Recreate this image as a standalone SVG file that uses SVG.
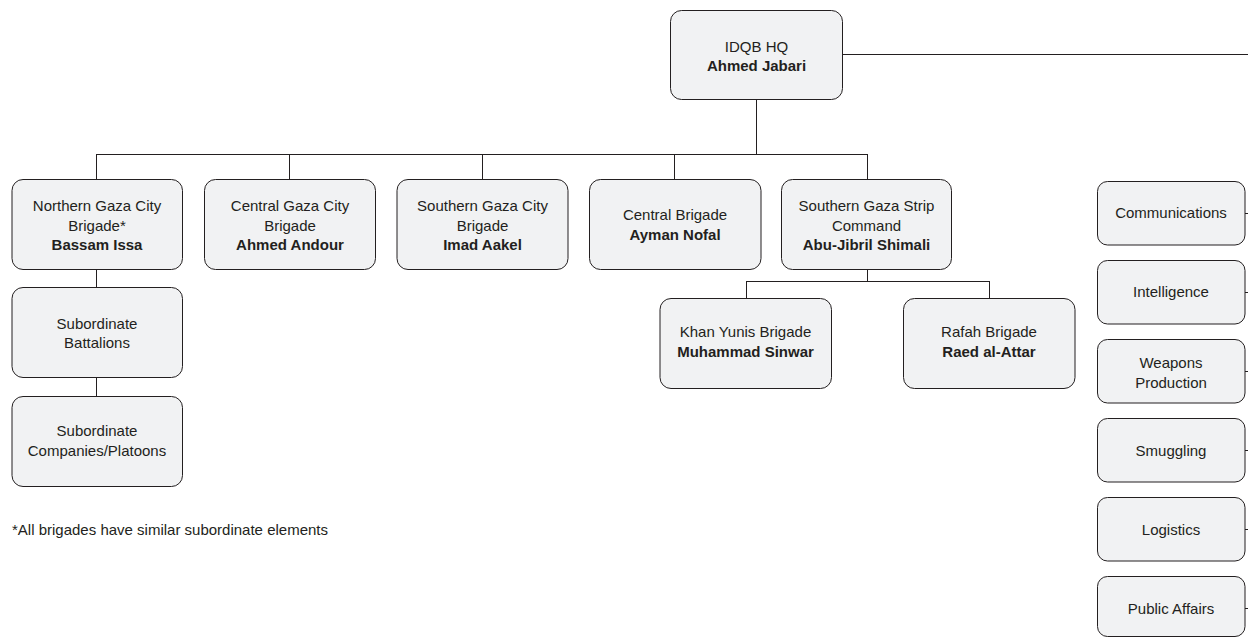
<svg xmlns="http://www.w3.org/2000/svg" width="1248" height="638" viewBox="0 0 1248 638">
<style>
.box{fill:#f1f2f3;stroke:#231f20;stroke-width:1}
.t{font-family:"Liberation Sans",Arial,sans-serif;font-size:15px;fill:#231f20;text-anchor:middle}
.b{font-weight:bold}
.c line{stroke:#231f20;stroke-width:1}
</style>
<rect width="1248" height="638" fill="#ffffff"/>
<g class="c" id="connectors">
<line x1="842" y1="54.5" x2="1248" y2="54.5"/>
<line x1="756.5" y1="100" x2="756.5" y2="154.5"/>
<line x1="96.5" y1="154.5" x2="867.5" y2="154.5"/>
<line x1="96.5" y1="154" x2="96.5" y2="180"/>
<line x1="289.5" y1="154" x2="289.5" y2="180"/>
<line x1="482.5" y1="154" x2="482.5" y2="180"/>
<line x1="674.5" y1="154" x2="674.5" y2="180"/>
<line x1="867.5" y1="154" x2="867.5" y2="180"/>
<line x1="96.5" y1="270" x2="96.5" y2="288"/>
<line x1="96.5" y1="378" x2="96.5" y2="397"/>
<line x1="867.5" y1="270" x2="867.5" y2="282"/>
<line x1="746.5" y1="281.5" x2="989.5" y2="281.5"/>
<line x1="746.5" y1="281" x2="746.5" y2="298"/>
<line x1="989.5" y1="281" x2="989.5" y2="298"/>
<line x1="1245" y1="213.5" x2="1248" y2="213.5"/>
<line x1="1245" y1="292.5" x2="1248" y2="292.5"/>
<line x1="1245" y1="371.5" x2="1248" y2="371.5"/>
<line x1="1245" y1="450.5" x2="1248" y2="450.5"/>
<line x1="1245" y1="529.5" x2="1248" y2="529.5"/>
<line x1="1245" y1="608.5" x2="1248" y2="608.5"/>
</g>
<g id="hq">
<rect class="box" x="670.5" y="10.5" width="172" height="89" rx="11"/>
<text class="t" x="756.5" y="52">IDQB HQ</text>
<text class="t b" x="756.5" y="71">Ahmed Jabari</text>
</g>
<g id="northern">
<rect class="box" x="12" y="179.5" width="170.5" height="90" rx="11"/>
<text class="t" x="97" y="211">Northern Gaza City</text>
<text class="t" x="97" y="231">Brigade*</text>
<text class="t b" x="97" y="250">Bassam Issa</text>
</g>
<g id="central-gaza-city">
<rect class="box" x="204.5" y="179.5" width="171" height="90" rx="11"/>
<text class="t" x="290" y="211">Central Gaza City</text>
<text class="t" x="290" y="231">Brigade</text>
<text class="t b" x="290" y="250">Ahmed Andour</text>
</g>
<g id="southern-gaza-city">
<rect class="box" x="397" y="179.5" width="171" height="90" rx="11"/>
<text class="t" x="482.5" y="211">Southern Gaza City</text>
<text class="t" x="482.5" y="231">Brigade</text>
<text class="t b" x="482.5" y="250">Imad Aakel</text>
</g>
<g id="central-brigade">
<rect class="box" x="589.5" y="179.5" width="171.5" height="90" rx="11"/>
<text class="t" x="675" y="220">Central Brigade</text>
<text class="t b" x="675" y="240">Ayman Nofal</text>
</g>
<g id="southern-gaza-strip">
<rect class="box" x="781.5" y="179.5" width="170" height="90" rx="11"/>
<text class="t" x="866.5" y="211">Southern Gaza Strip</text>
<text class="t" x="866.5" y="231">Command</text>
<text class="t b" x="866.5" y="250">Abu-Jibril Shimali</text>
</g>
<g id="khan-yunis">
<rect class="box" x="660" y="298.5" width="171.5" height="90" rx="11"/>
<text class="t" x="745.5" y="337">Khan Yunis Brigade</text>
<text class="t b" x="745.5" y="357">Muhammad Sinwar</text>
</g>
<g id="rafah">
<rect class="box" x="903.5" y="298.5" width="171.5" height="90" rx="11"/>
<text class="t" x="989" y="337">Rafah Brigade</text>
<text class="t b" x="989" y="357">Raed al-Attar</text>
</g>
<g id="battalions">
<rect class="box" x="12" y="287.5" width="170.5" height="90" rx="11"/>
<text class="t" x="97" y="329">Subordinate</text>
<text class="t" x="97" y="348">Battalions</text>
</g>
<g id="companies">
<rect class="box" x="12" y="396.5" width="170.5" height="90" rx="11"/>
<text class="t" x="97" y="436">Subordinate</text>
<text class="t" x="97" y="456">Companies/Platoons</text>
</g>
<g id="footnote">
<text class="t" x="12" y="535" style="text-anchor:start">*All brigades have similar subordinate elements</text>
</g>
<g id="communications">
<rect class="box" x="1097.5" y="181.5" width="147.5" height="63.5" rx="10"/>
<text class="t" x="1171" y="218">Communications</text>
</g>
<g id="intelligence">
<rect class="box" x="1097.5" y="260.5" width="147.5" height="63.5" rx="10"/>
<text class="t" x="1171" y="297">Intelligence</text>
</g>
<g id="weapons">
<rect class="box" x="1097.5" y="339.5" width="147.5" height="63.5" rx="10"/>
<text class="t" x="1171" y="368">Weapons</text>
<text class="t" x="1171" y="387.5">Production</text>
</g>
<g id="smuggling">
<rect class="box" x="1097.5" y="418.5" width="147.5" height="63.5" rx="10"/>
<text class="t" x="1171" y="455.5">Smuggling</text>
</g>
<g id="logistics">
<rect class="box" x="1097.5" y="497.5" width="147.5" height="63.5" rx="10"/>
<text class="t" x="1171" y="534.5">Logistics</text>
</g>
<g id="public-affairs">
<rect class="box" x="1097.5" y="576.5" width="147.5" height="60" rx="10"/>
<text class="t" x="1171" y="613.5">Public Affairs</text>
</g>
</svg>
